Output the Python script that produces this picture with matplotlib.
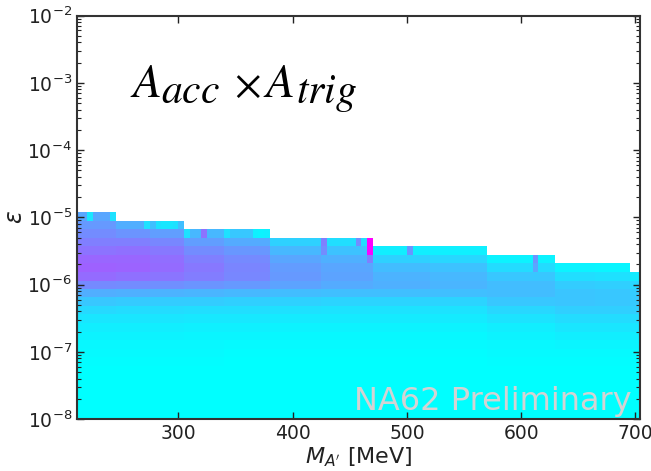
import numpy as np
import matplotlib
matplotlib.use("Agg")
import matplotlib.pyplot as plt

# mass bins (MeV) and log10(epsilon) bin edges of the acceptance map
mass_edges = np.arange(210, 710, 5)
log_eps_edges = [-4.92, -5.05, -5.17, -5.30, -5.43, -5.555, -5.68, -5.81, -5.94,
                 -6.06, -6.19, -6.32, -6.44, -6.57, -6.70, -6.825, -6.95, -7.08,
                 -7.21, -7.33, -7.46, -7.59, -7.71, -7.84, -7.97, -8.10]

# mass blocks: range, first filled epsilon row (upper edge), and acceptance
# (relative, 0..1) per row counted from that first row downwards
block_lo = [210, 245, 275, 305, 340, 380, 425, 470, 520, 570, 630, 665, 695]
block_hi = [245, 275, 305, 340, 380, 425, 470, 520, 570, 630, 665, 695, 705]
block_first_row = [0, 1, 1, 2, 2, 3, 3, 4, 4, 5, 6, 6, 7]
block_profiles = [
    [0.35, 0.40, 0.45, 0.50, 0.55, 0.60, 0.62, 0.58, 0.46, 0.32, 0.22, 0.15, 0.10, 0.07, 0.05, 0.03, 0.02, 0.01],
    [0.32, 0.42, 0.50, 0.56, 0.60, 0.61, 0.56, 0.45, 0.31, 0.21, 0.14, 0.10, 0.07, 0.05, 0.03, 0.02, 0.01],
    [0.25, 0.38, 0.47, 0.53, 0.57, 0.58, 0.54, 0.44, 0.30, 0.20, 0.14, 0.10, 0.07, 0.05, 0.03, 0.02, 0.01],
    [0.28, 0.38, 0.45, 0.50, 0.53, 0.51, 0.42, 0.29, 0.20, 0.13, 0.09, 0.06, 0.04, 0.03, 0.02, 0.01],
    [0.22, 0.33, 0.41, 0.46, 0.48, 0.47, 0.40, 0.28, 0.19, 0.13, 0.09, 0.06, 0.04, 0.02, 0.01],
    [0.18, 0.28, 0.35, 0.39, 0.40, 0.36, 0.26, 0.18, 0.12, 0.08, 0.05, 0.03, 0.02, 0.01],
    [0.13, 0.24, 0.31, 0.35, 0.36, 0.33, 0.25, 0.17, 0.11, 0.08, 0.05, 0.03, 0.02, 0.01],
    [0.07, 0.18, 0.26, 0.30, 0.31, 0.25, 0.17, 0.11, 0.08, 0.05, 0.03, 0.02, 0.01],
    [0.06, 0.16, 0.24, 0.28, 0.29, 0.25, 0.17, 0.11, 0.08, 0.05, 0.03, 0.02, 0.01],
    [0.05, 0.14, 0.22, 0.26, 0.26, 0.22, 0.16, 0.11, 0.07, 0.05, 0.03, 0.02, 0.01],
    [0.05, 0.13, 0.20, 0.23, 0.23, 0.19, 0.14, 0.10, 0.07, 0.04, 0.02, 0.01],
    [0.04, 0.12, 0.19, 0.22, 0.22, 0.19, 0.14, 0.10, 0.07, 0.04, 0.02, 0.01],
    [0.08, 0.16, 0.20, 0.21, 0.19, 0.14, 0.10, 0.07, 0.04, 0.02, 0.01],
]

# single cells that stand out (mass bin low edge, row, value)
cell_mass = [220, 240, 270, 280, 285, 290, 295, 305, 320, 340, 365, 370, 375,
             425, 425, 455, 465, 465, 465, 500, 610, 610]
cell_row = [0, 0, 1, 1, 1, 1, 1, 2, 2, 2, 2, 2, 2,
            3, 4, 3, 3, 4, 5, 4, 5, 6]
cell_val = [0.10, 0.12, 0.12, 0.12, 0.10, 0.10, 0.12, 0.12, 0.55, 0.12, 0.06, 0.05, 0.06,
            0.50, 0.45, 0.45, 1.00, 0.97, 0.50, 0.42, 0.42, 0.35]


def build_map():
    n_rows = len(log_eps_edges) - 1
    n_cols = len(mass_edges) - 1
    z = np.full((n_rows, n_cols), np.nan)
    centers = 0.5 * (mass_edges[:-1] + mass_edges[1:])
    for lo, hi, first, prof in zip(block_lo, block_hi, block_first_row, block_profiles):
        cols = (centers > lo) & (centers < hi)
        for k in range(first, n_rows):
            i = k - first
            z[k, cols] = prof[i] if i < len(prof) else 0.0
    for m, r, v in zip(cell_mass, cell_row, cell_val):
        col = int(np.searchsorted(mass_edges, m + 0.5)) - 1
        z[r, col] = v
    return np.ma.masked_invalid(z)


def main() -> None:
    z = build_map()
    eps_edges = 10.0 ** np.array(log_eps_edges)
    W, H = 651, 471

    fig = plt.figure(figsize=(W / 100, H / 100), dpi=100)
    ax = fig.add_axes([0.118, 0.110, 0.865, 0.857])
    ax.pcolormesh(mass_edges, eps_edges, z, cmap="cool", vmin=0, vmax=1,
                  shading="flat", edgecolors="none", antialiased=False)
    ax.set_yscale("log")
    ax.set_xlim(211, 704)
    ax.set_ylim(1e-8, 1e-2)
    ax.set_xticks([300, 400, 500, 600, 700])

    ax.tick_params(which="both", direction="in", top=True, right=True,
                   labelsize=13.5, colors="#222222", labelcolor="#222222")
    ax.tick_params(which="major", length=5, width=1)
    ax.tick_params(which="minor", length=3, width=0.8)
    ax.yaxis.set_minor_locator(matplotlib.ticker.LogLocator(base=10, subs=np.arange(2, 10)))
    ax.yaxis.set_minor_formatter(matplotlib.ticker.NullFormatter())
    for sp in ax.spines.values():
        sp.set_linewidth(1.5)
        sp.set_color("#333333")

    ax.set_xlabel(r"$M_{A'}$ [MeV]", fontsize=16, color="#222222", labelpad=2)
    ax.set_ylabel(r"$\epsilon$", fontsize=17, color="#222222", labelpad=0)

    # A_acc x A_trig, with large subscripts as in the original slide
    main_kw = dict(math_fontfamily="stix", va="baseline", ha="left", color="black")
    fig.text(130 / W, 1 - 97 / H, r"$A$", fontsize=34, **main_kw)
    fig.text(161 / W, 1 - 103 / H, r"$acc$", fontsize=30, **main_kw)
    fig.text(247 / W, 1 - 85 / H, r"$\times$", fontsize=30, math_fontfamily="stix",
             ha="center", va="center", color="black")
    fig.text(263 / W, 1 - 97 / H, r"$A$", fontsize=34, **main_kw)
    fig.text(296 / W, 1 - 103 / H, r"$trig$", fontsize=30, **main_kw)

    ax.text(0.986, 0.022, "NA62 Preliminary", transform=ax.transAxes,
            fontsize=23, color="#d3d3d3", ha="right", va="baseline")

    fig.savefig("out.png", dpi=100)


if __name__ == "__main__":
    main()
